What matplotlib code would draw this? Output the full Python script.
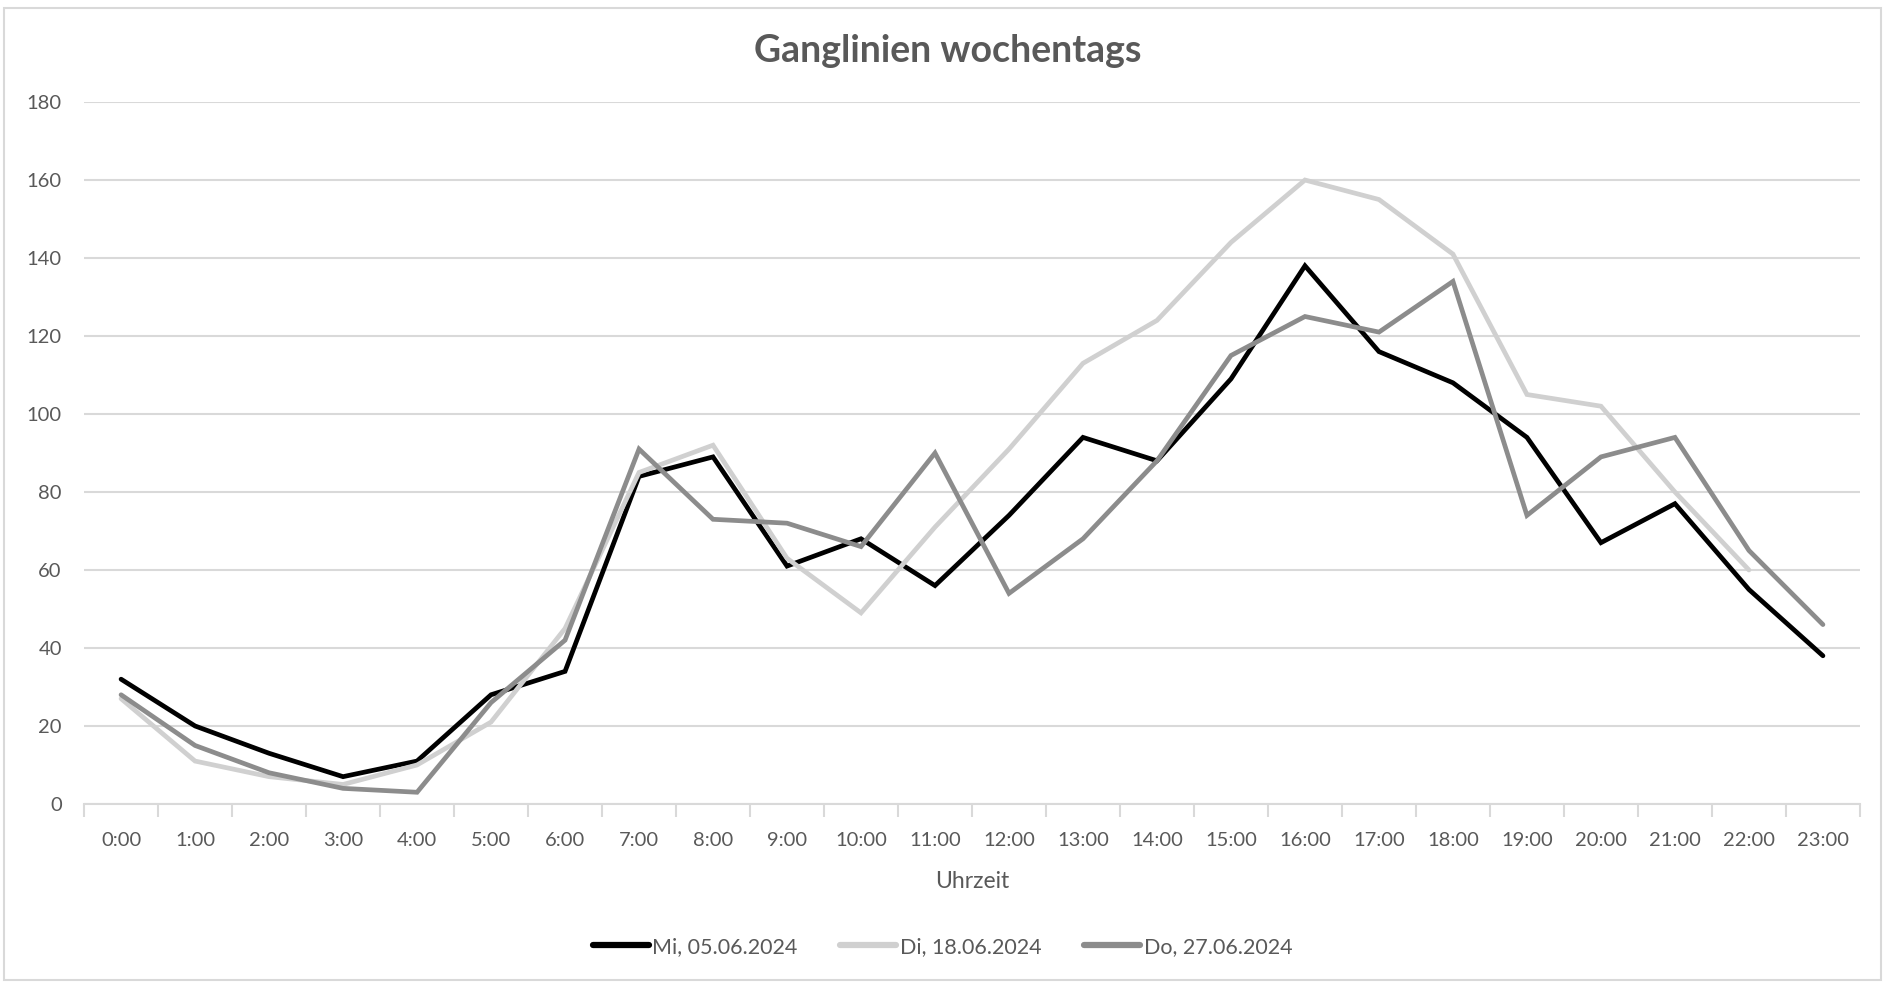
import matplotlib
matplotlib.use("Agg")
import matplotlib.pyplot as plt
from matplotlib.patches import Rectangle
import numpy as np

plt.rcParams['font.family'] = ['Lato', 'DejaVu Sans']

hours = [f"{h}:00" for h in range(24)]
mi_0506 = [32, 20, 13, 7, 11, 28, 34, 84, 89, 61, 68, 56, 74, 94, 88, 109, 138, 116, 108, 94, 67, 77, 55, 38]
di_1806 = [27, 11, 7, 5, 10, 21, 45, 85, 92, 63, 49, 71, 91, 113, 124, 144, 160, 155, 141, 105, 102, 80, 60, None]
do_2706 = [28, 15, 8, 4, 3, 26, 42, 91, 73, 72, 66, 90, 54, 68, 88, 115, 125, 121, 134, 74, 89, 94, 65, 46]

series = [
    ("Mi, 05.06.2024", mi_0506, "#000000"),
    ("Di, 18.06.2024", di_1806, "#d0d0d0"),
    ("Do, 27.06.2024", do_2706, "#8c8c8c"),
]

fig = plt.figure(figsize=(18.85, 9.82), dpi=100)
ax = fig.add_axes([0.0446, 0.1813, 0.9421, 0.7148])

x = np.arange(len(hours))
for label, vals, col in series:
    y = np.array([np.nan if v is None else v for v in vals], dtype=float)
    ax.plot(x, y, color=col, lw=3.4, label=label, solid_capstyle='round', solid_joinstyle='miter')

ax.set_xlim(-0.5, 23.5)
ax.set_ylim(0, 180)
ax.set_yticks(range(0, 181, 20))
ax.yaxis.grid(True, color="#d9d9d9", lw=1.5)
ax.set_axisbelow(True)
for s in ["top", "right", "left"]:
    ax.spines[s].set_visible(False)
ax.spines["bottom"].set_color("#d9d9d9")
ax.spines["bottom"].set_linewidth(1.5)

ax.set_xticks(x)
ax.set_xticklabels(hours)
ax.set_xticks(np.arange(-0.5, 24, 1), minor=True)
ax.tick_params(axis="x", which="major", length=0, pad=20, labelsize=14.5, labelcolor="#595959")
ax.tick_params(axis="x", which="minor", length=9, width=1.5, color="#d9d9d9")
ax.tick_params(axis="y", length=0, pad=16, labelsize=14.5, labelcolor="#595959")

ax.set_xlabel("Uhrzeit", fontsize=16.5, color="#595959", labelpad=16)

fig.suptitle("Ganglinien wochentags", x=0.503, y=0.965, fontsize=27, fontweight="bold", color="#595959")

leg = fig.legend(loc="center", bbox_to_anchor=(0.5, 0.036), ncol=3, frameon=False,
                 fontsize=15.5, handlelength=2.6, handletextpad=0.15, columnspacing=2.0)
for t in leg.get_texts():
    t.set_color("#595959")
for h in leg.get_lines():
    h.set_linewidth(4.5)

fig.patches.append(Rectangle((0.002, 0.002), 0.996, 0.99, transform=fig.transFigure,
                             fill=False, edgecolor="#d9d9d9", lw=1.5))

fig.savefig("out.png", dpi=100, facecolor="white")
